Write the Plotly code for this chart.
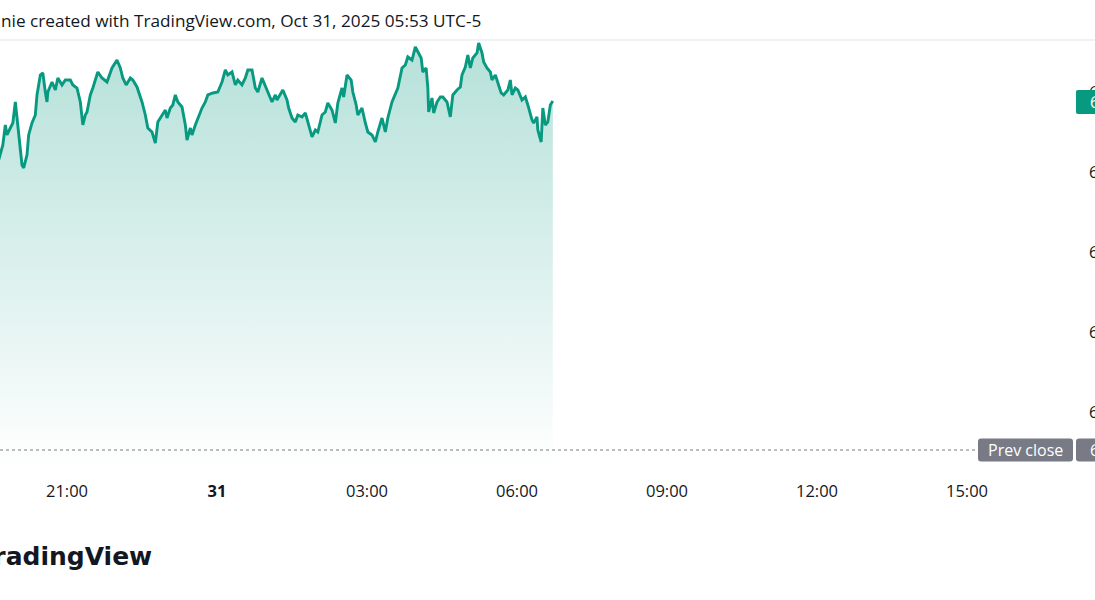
import plotly.graph_objects as go

# ---- data ----
times = [
    "2025-10-30 19:38", "2025-10-30 19:43", "2025-10-30 19:46", "2025-10-30 19:48", "2025-10-30 19:52",
    "2025-10-30 19:55", "2025-10-30 19:58", "2025-10-30 20:00", "2025-10-30 20:04", "2025-10-30 20:06",
    "2025-10-30 20:08", "2025-10-30 20:12", "2025-10-30 20:14", "2025-10-30 20:18", "2025-10-30 20:22",
    "2025-10-30 20:24", "2025-10-30 20:28", "2025-10-30 20:31", "2025-10-30 20:34", "2025-10-30 20:36",
    "2025-10-30 20:37", "2025-10-30 20:42", "2025-10-30 20:46", "2025-10-30 20:49", "2025-10-30 20:54",
    "2025-10-30 20:58", "2025-10-30 21:04", "2025-10-30 21:07", "2025-10-30 21:12", "2025-10-30 21:16",
    "2025-10-30 21:19", "2025-10-30 21:22", "2025-10-30 21:24", "2025-10-30 21:28", "2025-10-30 21:31",
    "2025-10-30 21:37", "2025-10-30 21:42", "2025-10-30 21:48", "2025-10-30 21:54", "2025-10-30 22:00",
    "2025-10-30 22:04", "2025-10-30 22:07", "2025-10-30 22:11", "2025-10-30 22:16", "2025-10-30 22:19",
    "2025-10-30 22:24", "2025-10-30 22:28", "2025-10-30 22:30", "2025-10-30 22:34", "2025-10-30 22:37",
    "2025-10-30 22:42", "2025-10-30 22:46", "2025-10-30 22:49", "2025-10-30 22:54", "2025-10-30 22:58",
    "2025-10-30 23:00", "2025-10-30 23:04", "2025-10-30 23:07", "2025-10-30 23:10", "2025-10-30 23:13",
    "2025-10-30 23:18", "2025-10-30 23:22", "2025-10-30 23:24", "2025-10-30 23:28", "2025-10-30 23:30",
    "2025-10-30 23:34", "2025-10-30 23:37", "2025-10-30 23:42", "2025-10-30 23:46", "2025-10-30 23:49",
    "2025-10-30 23:55", "2025-10-31 00:01", "2025-10-31 00:06", "2025-10-31 00:10", "2025-10-31 00:13",
    "2025-10-31 00:18", "2025-10-31 00:22", "2025-10-31 00:25", "2025-10-31 00:30", "2025-10-31 00:34",
    "2025-10-31 00:37", "2025-10-31 00:42", "2025-10-31 00:46", "2025-10-31 00:49", "2025-10-31 00:54",
    "2025-10-31 00:58", "2025-10-31 01:01", "2025-10-31 01:06", "2025-10-31 01:10", "2025-10-31 01:12",
    "2025-10-31 01:16", "2025-10-31 01:19", "2025-10-31 01:24", "2025-10-31 01:26", "2025-10-31 01:30",
    "2025-10-31 01:34", "2025-10-31 01:37", "2025-10-31 01:42", "2025-10-31 01:46", "2025-10-31 01:49",
    "2025-10-31 01:54", "2025-10-31 01:58", "2025-10-31 02:01", "2025-10-31 02:06", "2025-10-31 02:10",
    "2025-10-31 02:13", "2025-10-31 02:18", "2025-10-31 02:22", "2025-10-31 02:25", "2025-10-31 02:30",
    "2025-10-31 02:32", "2025-10-31 02:36", "2025-10-31 02:41", "2025-10-31 02:43", "2025-10-31 02:47",
    "2025-10-31 02:49", "2025-10-31 02:54", "2025-10-31 02:58", "2025-10-31 03:01", "2025-10-31 03:06",
    "2025-10-31 03:10", "2025-10-31 03:13", "2025-10-31 03:18", "2025-10-31 03:22", "2025-10-31 03:25",
    "2025-10-31 03:30", "2025-10-31 03:34", "2025-10-31 03:37", "2025-10-31 03:42", "2025-10-31 03:46",
    "2025-10-31 03:49", "2025-10-31 03:54", "2025-10-31 03:58", "2025-10-31 04:01", "2025-10-31 04:05",
    "2025-10-31 04:07", "2025-10-31 04:11", "2025-10-31 04:13", "2025-10-31 04:14", "2025-10-31 04:18",
    "2025-10-31 04:20", "2025-10-31 04:24", "2025-10-31 04:28", "2025-10-31 04:31", "2025-10-31 04:36",
    "2025-10-31 04:40", "2025-10-31 04:43", "2025-10-31 04:48", "2025-10-31 04:52", "2025-10-31 04:54",
    "2025-10-31 04:58", "2025-10-31 05:01", "2025-10-31 05:04", "2025-10-31 05:07", "2025-10-31 05:12",
    "2025-10-31 05:14", "2025-10-31 05:18", "2025-10-31 05:20", "2025-10-31 05:24", "2025-10-31 05:28",
    "2025-10-31 05:30", "2025-10-31 05:34", "2025-10-31 05:37", "2025-10-31 05:41", "2025-10-31 05:44",
    "2025-10-31 05:49", "2025-10-31 05:52", "2025-10-31 05:54", "2025-10-31 05:58", "2025-10-31 06:01",
    "2025-10-31 06:06", "2025-10-31 06:10", "2025-10-31 06:13", "2025-10-31 06:18", "2025-10-31 06:20",
    "2025-10-31 06:24", "2025-10-31 06:25", "2025-10-31 06:29", "2025-10-31 06:31", "2025-10-31 06:34",
    "2025-10-31 06:37", "2025-10-31 06:40", "2025-10-31 06:43",
]
prices = [
    6891.50, 6893.38, 6895.88, 6894.63, 6895.50,
    6896.13, 6898.75, 6896.75, 6893.38, 6890.88,
    6890.50, 6892.13, 6894.63, 6896.13, 6897.13,
    6899.63, 6902.13, 6902.38, 6900.00, 6898.75,
    6900.00, 6901.25, 6900.25, 6901.75, 6900.88,
    6901.50, 6901.50, 6900.88, 6900.50, 6898.75,
    6895.88, 6897.13, 6897.50, 6899.63, 6900.50,
    6902.50, 6901.75, 6901.25, 6903.00, 6904.00,
    6903.00, 6901.75, 6900.88, 6901.75, 6901.50,
    6900.63, 6899.38, 6898.75, 6897.13, 6895.50,
    6895.00, 6893.63, 6896.25, 6897.13, 6897.75,
    6896.75, 6898.00, 6898.38, 6899.63, 6898.75,
    6898.13, 6895.88, 6894.00, 6895.50, 6894.63,
    6895.88, 6896.75, 6898.00, 6898.75, 6899.63,
    6899.88, 6900.00, 6901.25, 6902.75, 6902.13,
    6902.50, 6900.88, 6901.50, 6900.88, 6901.75,
    6902.75, 6902.75, 6900.50, 6900.00, 6901.75,
    6900.63, 6900.00, 6898.75, 6899.63, 6899.00,
    6899.63, 6900.25, 6899.00, 6898.00, 6896.75,
    6896.25, 6897.13, 6896.88, 6897.38, 6896.25,
    6894.38, 6895.25, 6895.00, 6897.13, 6897.50,
    6898.63, 6897.75, 6896.13, 6898.63, 6900.50,
    6899.38, 6902.13, 6901.50, 6900.00, 6898.38,
    6897.13, 6898.00, 6896.13, 6895.00, 6894.63,
    6893.75, 6895.00, 6896.75, 6895.00, 6896.75,
    6898.75, 6899.63, 6900.50, 6903.00, 6903.38,
    6904.38, 6904.00, 6905.63, 6905.00, 6904.25,
    6902.50, 6903.00, 6900.50, 6897.50, 6899.25,
    6897.38, 6898.75, 6899.38, 6899.38, 6898.75,
    6896.88, 6899.63, 6900.25, 6900.63, 6902.13,
    6903.13, 6904.63, 6903.00, 6904.25, 6904.88,
    6906.13, 6904.88, 6903.75, 6903.00, 6902.50,
    6901.50, 6902.13, 6901.25, 6899.88, 6899.63,
    6900.25, 6901.50, 6899.63, 6900.50, 6900.25,
    6899.00, 6899.38, 6898.38, 6896.50, 6896.13,
    6896.88, 6895.25, 6893.75, 6898.00, 6895.88,
    6896.25, 6898.38, 6898.88,
]
prev_close = 6855.25

tick_times = ["2025-10-30 21:00", "2025-10-31 00:00", "2025-10-31 03:00", "2025-10-31 06:00",
              "2025-10-31 09:00", "2025-10-31 12:00", "2025-10-31 15:00"]
tick_labels = ["21:00", "<b>31</b>", "03:00", "06:00", "09:00", "12:00", "15:00"]
price_ticks = [6860, 6870, 6880, 6890, 6900]

title_text = "nie created with TradingView.com, Oct 31, 2025 05:53 UTC-5"

# ---- styling / layout ----
W, H = 1095, 600
ML, MR, MT, MB = 0, 20, 40, 130
PW, PH = W - ML - MR, H - MT - MB
x_range = ["2025-10-30 19:39:36", "2025-10-31 17:09:36"]
y_range = [6852.75, 6906.5]

GREEN = "#089981"
GRAY = "#787b86"
TEXT = "#131722"
FONT = "Open Sans"

fig = go.Figure()
fig.add_trace(go.Scatter(
    x=times, y=prices, mode="lines",
    line=dict(color=GREEN, width=2.9),
    fill="tozeroy",
    fillgradient=dict(type="vertical",
                      colorscale=[[0, "rgba(8,153,129,0.0)"], [1, "rgba(8,153,129,0.30)"]],
                      start=y_range[0], stop=max(prices)),
    hoverinfo="skip", showlegend=False,
))


def px_x(px):
    return (px - ML) / PW


def px_y(py):
    return (H - MB - py) / PH


def val_to_py(v):
    return H - MB - (v - y_range[0]) / (y_range[1] - y_range[0]) * PH


def rounded(x0, y0, x1, y1, r):
    pts = [
        f"M {px_x(x0 + r)} {px_y(y0)}",
        f"L {px_x(x1 - r)} {px_y(y0)}",
        f"Q {px_x(x1)} {px_y(y0)} {px_x(x1)} {px_y(y0 + r)}",
        f"L {px_x(x1)} {px_y(y1 - r)}",
        f"Q {px_x(x1)} {px_y(y1)} {px_x(x1 - r)} {px_y(y1)}",
        f"L {px_x(x0 + r)} {px_y(y1)}",
        f"Q {px_x(x0)} {px_y(y1)} {px_x(x0)} {px_y(y1 - r)}",
        f"L {px_x(x0)} {px_y(y0 + r)}",
        f"Q {px_x(x0)} {px_y(y0)} {px_x(x0 + r)} {px_y(y0)}",
        "Z",
    ]
    return " ".join(pts)


def rect_left_rounded(x0, y0, x1, y1, r):
    pts = [
        f"M {px_x(x0 + r)} {px_y(y0)}",
        f"L {px_x(x1)} {px_y(y0)}",
        f"L {px_x(x1)} {px_y(y1)}",
        f"L {px_x(x0 + r)} {px_y(y1)}",
        f"Q {px_x(x0)} {px_y(y1)} {px_x(x0)} {px_y(y1 - r)}",
        f"L {px_x(x0)} {px_y(y0 + r)}",
        f"Q {px_x(x0)} {px_y(y0)} {px_x(x0 + r)} {px_y(y0)}",
        "Z",
    ]
    return " ".join(pts)


shapes = []
# separator under header
shapes.append(dict(type="line", xref="paper", yref="paper", x0=px_x(0), x1=px_x(W),
                   y0=px_y(40), y1=px_y(40), line=dict(color="#e0e3eb", width=1), layer="above"))
# prev close dotted line
pc_y = val_to_py(prev_close)
shapes.append(dict(type="line", xref="paper", yref="y", x0=0, x1=px_x(976),
                   y0=prev_close, y1=prev_close, line=dict(color=GRAY, width=1, dash="dot"), layer="above"))
# prev close tags
shapes.append(dict(type="path", xref="paper", yref="paper",
                   path=rounded(978, pc_y - 11.5, 1073, pc_y + 11.5, 3),
                   fillcolor=GRAY, line=dict(width=0), layer="above"))
shapes.append(dict(type="path", xref="paper", yref="paper",
                   path=rect_left_rounded(1076, pc_y - 11.5, W, pc_y + 11.5, 3),
                   fillcolor=GRAY, line=dict(width=0), layer="above"))
# last price tag
last = prices[-1]
lp_y = val_to_py(last)
shapes.append(dict(type="path", xref="paper", yref="paper",
                   path=rect_left_rounded(1076, lp_y - 11, W, lp_y + 13, 2),
                   fillcolor=GREEN, line=dict(width=0), layer="above"))

annotations = [
    dict(text=title_text, xref="paper", yref="paper", x=px_x(-1), y=px_y(21),
         xanchor="left", yanchor="middle", showarrow=False,
         font=dict(family=FONT, size=17.2, color=TEXT)),
    dict(text="TradingView", xref="paper", yref="paper", x=px_x(154), y=px_y(556),
         xanchor="right", yanchor="middle", showarrow=False,
         font=dict(family="DejaVu Sans", size=25, color=TEXT, weight=700)),
    dict(text="Prev close", xref="paper", yref="paper", x=px_x(1025.5), y=px_y(pc_y),
         xanchor="center", yanchor="middle", showarrow=False,
         font=dict(family=FONT, size=16, color="white")),
    dict(text=f"{prev_close:,.2f}", xref="paper", yref="paper", x=px_x(1088), y=px_y(pc_y),
         xanchor="left", yanchor="middle", showarrow=False,
         font=dict(family=FONT, size=16, color="white")),
    dict(text=f"{last:,.2f}", xref="paper", yref="paper", x=px_x(1088), y=px_y(lp_y + 1),
         xanchor="left", yanchor="middle", showarrow=False,
         font=dict(family=FONT, size=16, color="white")),
]

fig.update_layout(
    width=W, height=H,
    margin=dict(l=ML, r=MR, t=MT, b=MB, pad=0, autoexpand=False),
    paper_bgcolor="white", plot_bgcolor="white",
    shapes=shapes, annotations=annotations,
    showlegend=False,
    xaxis=dict(type="date", range=x_range, showgrid=False, zeroline=False, showline=False,
               automargin=False,
               tickmode="array", tickvals=tick_times, ticktext=tick_labels, ticks="",
               ticklabelstandoff=9,
               tickfont=dict(family=FONT, size=16.5, color=TEXT), fixedrange=True),
    yaxis=dict(range=y_range, side="right", showgrid=False, zeroline=False, showline=False,
               automargin=False,
               tickmode="array", tickvals=price_ticks, ticktext=[f"{v:,.2f}" for v in price_ticks],
               ticks="", ticklabelstandoff=13,
               tickfont=dict(family=FONT, size=16, color=TEXT), fixedrange=True),
)

# page chrome: no body margin; the graph div clips its content to the 1095x600 window,
# the way the reference screenshot is cropped at its right edge
clip_js = (
    "document.documentElement.style.margin='0';document.body.style.margin='0';"
    "document.documentElement.style.overflow='hidden';document.body.style.overflow='hidden';"
    "document.querySelectorAll('.plotly-graph-div').forEach(function(d){"
    "d.style.width='1095px';d.style.height='600px';d.style.overflow='hidden';"
    "if(d.parentElement){d.parentElement.style.width='1095px';d.parentElement.style.height='600px';"
    "d.parentElement.style.overflow='hidden';}});"
    "document.querySelectorAll('.main-svg').forEach(function(s){s.style.overflow='hidden';});"
)
fig.write_html("out.html", post_script=clip_js, config={"displayModeBar": False})
